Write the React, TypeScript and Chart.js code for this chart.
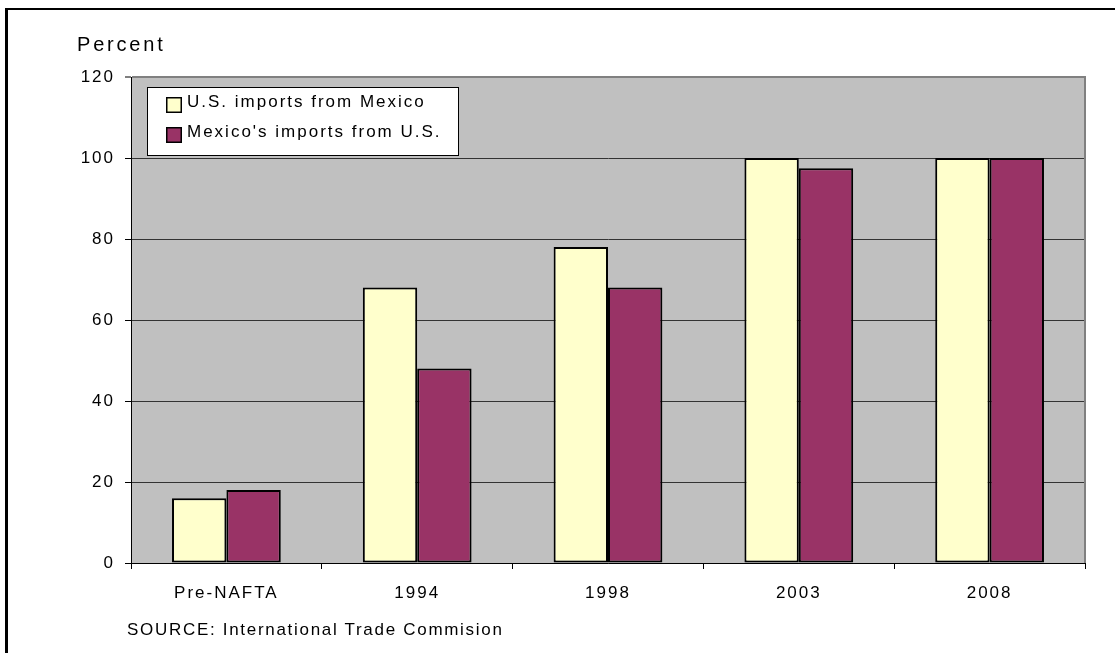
import React, { useEffect, useRef } from 'react';
import { Chart, registerables } from 'chart.js';

Chart.register(...registerables);

const categories = ['Pre-NAFTA', '1994', '1998', '2003', '2008'];
const usImportsFromMexico = [16, 68, 78, 100, 100];
const mexicoImportsFromUS = [18, 48, 68, 97.5, 100];
const seriesLabels = ['U.S. imports from Mexico', "Mexico's imports from U.S."];
const seriesColors = ['#FFFFCC', '#993366'];
const yTicks = [0, 20, 40, 60, 80, 100, 120];
const yAxisTitle = 'Percent';
const sourceNote = 'SOURCE: International Trade Commision';

const FONT = '"Liberation Sans", Arial, Helvetica, sans-serif';

const decorPlugin = {
  id: 'decor',
  beforeUpdate(chart: any) {
    (chart.ctx as any).letterSpacing = '2px';
  },
  beforeDraw(chart: any) {
    const { ctx, chartArea: a, width, height } = chart;
    ctx.save();
    ctx.fillStyle = '#ffffff';
    ctx.fillRect(0, 0, width, height);
    ctx.fillStyle = '#000000';
    ctx.fillRect(5, 8, width, 2);
    ctx.fillRect(5, 8, 3, height);
    ctx.fillStyle = '#C0C0C0';
    ctx.fillRect(a.left, a.top, a.right - a.left, a.bottom - a.top);
    ctx.restore();
    (ctx as any).letterSpacing = '2px';
  },
  beforeDatasetsDraw(chart: any) {
    const { ctx, chartArea: a } = chart;
    ctx.save();
    ctx.strokeStyle = '#808080';
    ctx.lineWidth = 2;
    ctx.beginPath();
    ctx.moveTo(a.right, a.top - 1);
    ctx.lineTo(a.right, a.bottom);
    ctx.stroke();
    ctx.restore();
  },
  afterDatasetsDraw(chart: any) {
    const { ctx, chartArea: a } = chart;
    const bx = a.left + 16;
    const by = a.top + 10;
    const bw = 312;
    const bh = 69;
    ctx.save();
    ctx.fillStyle = '#ffffff';
    ctx.fillRect(bx, by, bw, bh);
    ctx.strokeStyle = '#000000';
    ctx.lineWidth = 1;
    ctx.strokeRect(bx + 0.5, by + 0.5, bw - 1, bh - 1);
    (ctx as any).letterSpacing = '2px';
    ctx.font = `17px ${FONT}`;
    ctx.textAlign = 'left';
    ctx.textBaseline = 'middle';
    chart.data.datasets.forEach((ds: any, i: number) => {
      const sy = by + 10 + i * 30;
      ctx.fillStyle = ds.backgroundColor;
      ctx.fillRect(bx + 19, sy, 16, 16);
      ctx.lineWidth = 1.5;
      ctx.strokeStyle = '#000';
      ctx.strokeRect(bx + 19.75, sy + 0.75, 14.5, 14.5);
      ctx.fillStyle = '#000';
      ctx.fillText(ds.label, bx + 40, by + 15 + i * 30);
    });
    ctx.restore();
  },
};

export default function App() {
  const canvasRef = useRef<HTMLCanvasElement | null>(null);

  useEffect(() => {
    const canvas = canvasRef.current;
    if (!canvas) return;
    Chart.defaults.font.family = FONT;
    const chart = new Chart(canvas, {
      type: 'bar',
      data: {
        labels: categories,
        datasets: [
          {
            label: seriesLabels[0],
            data: usImportsFromMexico,
            backgroundColor: seriesColors[0],
            borderColor: '#000000',
            borderWidth: 2,
            borderSkipped: false,
          },
          {
            label: seriesLabels[1],
            data: mexicoImportsFromUS,
            backgroundColor: seriesColors[1],
            borderColor: '#000000',
            borderWidth: 2,
            borderSkipped: false,
          },
        ],
      },
      options: {
        responsive: false,
        maintainAspectRatio: false,
        animation: false,
        devicePixelRatio: 1,
        categoryPercentage: 0.57,
        barPercentage: 1,
        layout: { padding: { top: 77, right: 30, left: 0, bottom: 0 } },
        plugins: {
          legend: { display: false },
          title: { display: false },
          tooltip: { enabled: false },
        },
        scales: {
          x: {
            offset: true,
            grid: {
              display: true,
              offset: true,
              drawOnChartArea: false,
              drawTicks: true,
              tickLength: 6,
              tickColor: '#000000',
            },
            border: { display: true, color: '#000000', width: 1 },
            ticks: {
              color: '#000000',
              font: { size: 17, family: FONT },
              padding: 14,
              maxRotation: 0,
              autoSkip: false,
            },
            afterFit(scale: any) {
              scale.height = 90;
            },
          },
          y: {
            min: 0,
            max: 120,
            afterBuildTicks(scale: any) {
              scale.ticks = yTicks.map((v) => ({ value: v }));
            },
            grid: {
              color: (c: any) => (c.tick && c.tick.value === 120 ? '#808080' : '#333333'),
              lineWidth: (c: any) => (c.tick && c.tick.value === 120 ? 2 : 1),
              drawTicks: true,
              tickLength: 6,
              tickColor: '#000000',
              tickWidth: 1,
            },
            border: { display: true, color: '#000000', width: 1 },
            ticks: {
              color: '#000000',
              font: { size: 17, family: FONT },
              padding: 10,
            },
            afterFit(scale: any) {
              scale.width = 131;
            },
          },
        },
      },
      plugins: [decorPlugin],
    } as any);
    return () => {
      chart.destroy();
    };
  }, []);

  return (
    <div
      style={{
        position: 'absolute',
        left: 0,
        top: 0,
        width: 1115,
        height: 653,
        overflow: 'hidden',
        background: '#fff',
      }}
    >
      <canvas
        ref={canvasRef}
        width={1115}
        height={653}
        style={{ position: 'absolute', left: 0, top: 0, width: 1115, height: 653 }}
      />
      <div
        style={{
          position: 'absolute',
          left: 77,
          top: 33,
          fontFamily: FONT,
          fontSize: 20,
          letterSpacing: '2.8px',
          lineHeight: 'normal',
          color: '#000',
          whiteSpace: 'nowrap',
        }}
      >
        {yAxisTitle}
      </div>
      <div
        style={{
          position: 'absolute',
          left: 127,
          top: 620,
          fontFamily: FONT,
          fontSize: 17,
          letterSpacing: '1.7px',
          lineHeight: 'normal',
          color: '#000',
          whiteSpace: 'nowrap',
        }}
      >
        {sourceNote}
      </div>
    </div>
  );
}
